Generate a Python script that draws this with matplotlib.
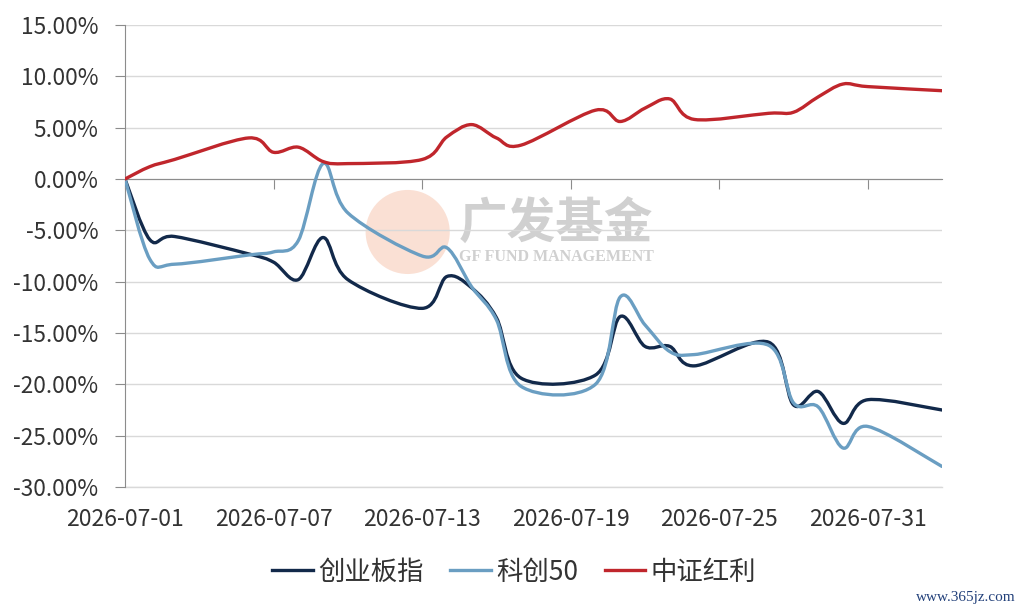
import matplotlib
matplotlib.use("Agg")
import matplotlib.pyplot as plt
import matplotlib.dates as mdates
from matplotlib.path import Path
from matplotlib.patches import PathPatch, Ellipse
from matplotlib.lines import Line2D
from matplotlib.ticker import FuncFormatter
import numpy as np
import pandas as pd

plt.rcParams['font.family'] = ['Noto Sans CJK SC', 'DejaVu Sans']

dates = ['2026-07-01', '2026-07-02', '2026-07-03', '2026-07-06', '2026-07-07', '2026-07-08',
         '2026-07-09', '2026-07-10', '2026-07-13', '2026-07-14', '2026-07-15', '2026-07-16',
         '2026-07-17', '2026-07-20', '2026-07-21', '2026-07-22', '2026-07-23', '2026-07-24',
         '2026-07-27', '2026-07-28', '2026-07-29', '2026-07-30', '2026-07-31', '2026-08-03']
chinext = [0.0, -5.9, -5.6, -7.3, -8.1, -9.8, -5.7, -9.8, -12.6, -9.5, -10.6, -13.5,
           -19.4, -19.1, -13.4, -16.3, -16.3, -18.2, -15.9, -22.0, -20.7, -23.8, -21.5, -22.5]
star50 = [0.0, -7.8, -8.3, -7.4, -7.1, -6.0, 1.5, -3.3, -7.5, -6.7, -10.5, -13.7,
          -20.2, -20.0, -11.5, -14.2, -16.8, -17.1, -16.2, -21.8, -22.2, -26.2, -24.1, -28.0]
dividend = [0.0, 1.2, 1.9, 4.0, 2.6, 3.1, 1.7, 1.5, 1.9, 4.1, 5.3, 4.0,
            3.3, 6.7, 5.6, 6.9, 7.8, 5.8, 6.4, 6.5, 8.0, 9.25, 9.0, 8.6]
series_names = ['创业板指', '科创50', '中证红利']
series_colors = ['#12294A', '#6A9EC2', '#C0262C']
tick_dates = ['2026-07-01', '2026-07-07', '2026-07-13', '2026-07-19', '2026-07-25', '2026-07-31']
y_ticks = [-30, -25, -20, -15, -10, -5, 0, 5, 10, 15]

x = mdates.date2num(pd.to_datetime(dates).to_pydatetime())


def smooth_path(xs, ys):
    pts = np.column_stack([xs, ys])
    n = len(pts)
    verts = [pts[0]]
    codes = [Path.MOVETO]
    for i in range(n - 1):
        p0 = pts[i - 1] if i > 0 else pts[i]
        p1 = pts[i]
        p2 = pts[i + 1]
        p3 = pts[i + 2] if i + 2 < n else pts[i + 1]
        c1 = p1 + (p2 - p0) / 6.0
        c2 = p2 - (p3 - p1) / 6.0
        verts += [c1, c2, p2]
        codes += [Path.CURVE4] * 3
    return Path(verts, codes)


fig = plt.figure(figsize=(10.24, 6.11), dpi=100)
ax = fig.add_axes([125 / 1024, 1 - 487 / 611, (942 - 125) / 1024, (487 - 25) / 611])

x0 = mdates.date2num(pd.Timestamp('2026-07-01'))
x1 = mdates.date2num(pd.Timestamp('2026-08-03'))
ax.set_xlim(x0, x1)
ax.set_ylim(-30, 15)

# watermark
ax.add_patch(Ellipse((0.346, 0.552), 0.103, 0.182, transform=ax.transAxes,
                     facecolor='#F6C2AA', edgecolor='none', alpha=0.5, zorder=0))
ax.text(0.528, 0.568, '广发基金', transform=ax.transAxes, ha='center', va='center',
        fontsize=35, fontweight='bold', color='#D0D0D0', zorder=0)
ax.text(0.528, 0.497, 'GF FUND MANAGEMENT', transform=ax.transAxes, ha='center', va='center',
        fontsize=11.5, fontweight='bold', color='#D0D0D0', family=['Liberation Serif', 'DejaVu Serif'],
        zorder=0)

ax.set_yticks(y_ticks)
ax.yaxis.set_major_formatter(FuncFormatter(lambda v, p: f'{v:.2f}%'))
ax.grid(axis='y', color='#D9D9D9', linewidth=1.0)
ax.set_axisbelow(True)
ax.axhline(-30, color='#D9D9D9', linewidth=1.0, clip_on=False, zorder=0.5)

for s in ['top', 'right']:
    ax.spines[s].set_visible(False)
ax.spines['left'].set_color('#8C8C8C')
ax.spines['bottom'].set_position(('data', 0))
ax.spines['bottom'].set_color('#8C8C8C')

tick_nums = mdates.date2num(pd.to_datetime(tick_dates).to_pydatetime())
ax.set_xticks(tick_nums)
ax.tick_params(axis='x', direction='out', length=7, color='#8C8C8C', labelbottom=False)
ax.tick_params(axis='y', direction='out', length=7, color='#8C8C8C', labelsize=16.3,
               labelcolor='#333333', pad=12)

sec = ax.secondary_xaxis('bottom')
sec.set_xticks(tick_nums)
sec.set_xticklabels(tick_dates)
sec.tick_params(length=0, labelsize=16.5, labelcolor='#333333', pad=15)
sec.spines['bottom'].set_visible(False)

handles = []
for ys, name, col in zip([chinext, star50, dividend], series_names, series_colors):
    patch = PathPatch(smooth_path(x, ys), facecolor='none', edgecolor=col, linewidth=2.4,
                      capstyle='round', joinstyle='round', zorder=3)
    ax.add_patch(patch)
    handles.append(Line2D([], [], color=col, linewidth=2.4))

fig.legend(handles, series_names, loc='center', bbox_to_anchor=(0.502, 1 - 572 / 611),
           ncol=3, frameon=False, fontsize=19, handlelength=1.55, handletextpad=0.2,
           columnspacing=1.0, labelcolor='#333333')

fig.text(0.992, 0.012, 'www.365jz.com', ha='right', va='bottom', fontsize=11, color='#22407A',
         family=['Liberation Serif', 'DejaVu Serif'])

fig.savefig('out.png', dpi=100, facecolor='white')
